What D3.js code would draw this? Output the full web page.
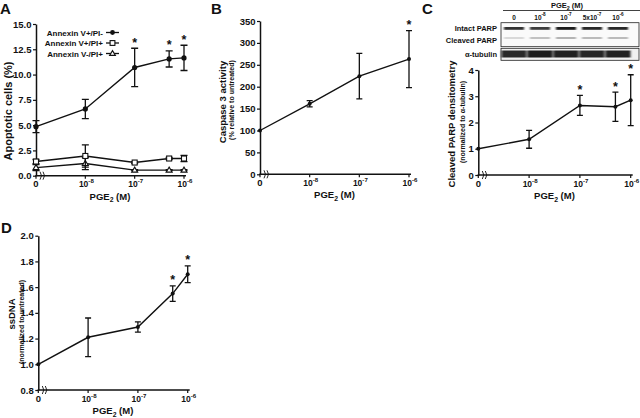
<!DOCTYPE html>
<html>
<head>
<meta charset="utf-8">
<script src="https://cdn.jsdelivr.net/npm/d3@7"></script>
<style>
  body { margin: 0; background: #fff; }
  svg { display: block; }
  text { font-family: "Liberation Sans", Arial, sans-serif; font-weight: bold; fill: #111; }
</style>
</head>
<body>
<svg id="fig" width="640" height="418"></svg>
<script>
// PGE2 doses (M); 0 is drawn one decade left of 1e-8, behind an axis break
const doses = [0, 1e-8, 1e-7, 5e-7, 1e-6];
const dosesB = [0, 1e-8, 1e-7, 1e-6];
const xTicks = [0, 1e-8, 1e-7, 1e-6];
const xTickLabels = ['0', '-8', '-7', '-6'];

// A: apoptotic cells (%)
const annexinPosPINeg = [4.85, 6.6, 10.7, 11.55, 11.65];
const annexinPosPINegErr = [0.6, 0.95, 1.9, 0.8, 1.25];
const annexinPosPIPos = [1.4, 1.95, 1.3, 1.7, 1.7];
const annexinPosPIPosErr = [0.2, 1.1, 0.1, 0.1, 0.3];
const annexinNegPIPos = [0.8, 1.2, 0.55, 0.55, 0.55];
const annexinNegPIPosErr = [0.3, 0.6, 0.05, 0.05, 0.05];
const starsA = [1e-7, 5e-7, 1e-6];

// B: caspase 3 activity (% of untreated)
const caspase = [100, 161, 224, 263];
const caspaseErr = [0, 7, 52, 65];
const starsB = [1e-6];

// C: cleaved PARP densitometry
const parp = [1.0, 1.36, 2.65, 2.6, 2.85];
const parpErr = [0, 0.34, 0.38, 0.56, 0.97];
const starsC = [1e-7, 5e-7, 1e-6];

// C blot: lane labels and band darkness (0..1)
const laneLabels = [['0', ''], ['10', '-8'], ['10', '-7'], ['5x10', '-7'], ['10', '-6']];
const intactBand = [0.85, 0.8, 0.95, 0.9, 0.9];
const cleavedBand = [0.12, 0.22, 0.28, 0.25, 0.25];
const tubulinBand = [0.88, 0.95, 0.92, 0.9, 0.93];

// D: ssDNA (normalized to untreated)
const ssdna = [1.0, 1.21, 1.29, 1.55, 1.70];
const ssdnaErr = [0, 0.15, 0.04, 0.06, 0.065];
const starsD = [5e-7, 1e-6];

const svg = d3.select('#fig');

function pge(sel) {
    sel.text('PGE');
    sel.append('tspan').attr('font-size', '0.72em').attr('dy', 2.5).text('2');
    sel.append('tspan').attr('dy', -2.5).text(' (M)');
}

function power(sel, base, exp) {
    sel.text(base);
    if (exp) sel.append('tspan').attr('font-size', '0.72em').attr('dy', -4).text(exp);
}

function panel(cfg) {
    const g = svg.append('g');
    const xl = d3.scaleLog().domain([1e-9, 1e-6]).range(cfg.xr);
    const x = d => xl(d === 0 ? 1e-9 : d);
    const y = d3.scaleLinear().domain(cfg.yd).range(cfg.yr);
    const y0 = cfg.yr[0];

    // y axis
    const ya = g.append('g').attr('transform', 'translate(' + cfg.xr[0] + ',0)')
        .call(d3.axisLeft(y).tickValues(cfg.yt).tickFormat(cfg.yf).tickSize(3).tickSizeOuter(0).tickPadding(1.5));
    ya.attr('font-family', null);
    ya.select('.domain').attr('stroke', '#111').attr('stroke-width', 1.5);
    ya.selectAll('.tick line').attr('stroke', '#111').attr('stroke-width', 1.2);
    ya.selectAll('.tick text').attr('font-size', 9.5).attr('fill', '#111');

    // x axis
    g.append('line').attr('x1', cfg.xr[0] - 0.7).attr('x2', cfg.xr[1] + 2)
        .attr('y1', y0).attr('y2', y0).attr('stroke', '#111').attr('stroke-width', 1.5);
    xTicks.forEach(function(t, i) {
        g.append('line').attr('x1', x(t)).attr('x2', x(t)).attr('y1', y0).attr('y2', y0 + 3)
            .attr('stroke', '#111').attr('stroke-width', 1.2);
        const tx = g.append('text').attr('x', x(t) + (i === 0 ? 0 : 1)).attr('y', y0 + 11.5)
            .attr('text-anchor', 'middle').attr('font-size', 8.5);
        if (i === 0) tx.attr('font-size', 9.5).text(xTickLabels[i]);
        else power(tx, '10', xTickLabels[i]);
    });
    // axis break marks
    [5, 8].forEach(function(dx) {
        const bx = cfg.xr[0] + dx;
        g.append('path')
            .attr('d', 'M' + (bx - 1) + ',' + (y0 - 4) + ' Q' + (bx + 2) + ',' + y0 + ' ' + (bx - 1) + ',' + (y0 + 4))
            .attr('fill', 'none').attr('stroke', '#111').attr('stroke-width', 0.9);
    });
    g.append('text').attr('x', (cfg.xr[0] + cfg.xr[1]) / 2).attr('y', y0 + 24)
        .attr('text-anchor', 'middle').attr('font-size', 9.5).call(pge);

    // y title
    g.append('text').attr('transform', 'translate(' + cfg.yl[0] + ',' + cfg.yl[1] + ') rotate(-90)')
        .attr('text-anchor', 'middle').attr('font-size', cfg.ytSize || 9.5).text(cfg.ytitle);
    if (cfg.ysub) {
        g.append('text').attr('transform', 'translate(' + cfg.ys[0] + ',' + cfg.ys[1] + ') rotate(-90)')
            .attr('text-anchor', 'middle').attr('font-size', 7).text(cfg.ysub);
    }
    // panel letter
    g.append('text').attr('x', cfg.letter[0]).attr('y', cfg.letter[1])
        .attr('font-size', 15).text(cfg.letter[2]);

    const line = d3.line().x(d => x(d.dose)).y(d => y(d.v));
    cfg.series.forEach(function(s) {
        const pts = s.doses.map((d, i) => ({ dose: d, v: s.vals[i], e: s.errs[i] }));
        g.append('path').datum(pts).attr('d', line)
            .attr('fill', 'none').attr('stroke', '#111').attr('stroke-width', 1.4);
        pts.forEach(function(p) {
            if (p.e > 0) {
                const cx = x(p.dose), w = cfg.cap;
                g.append('path')
                    .attr('d', 'M' + cx + ',' + y(p.v - p.e) + 'V' + y(p.v + p.e) +
                        'M' + (cx - w) + ',' + y(p.v + p.e) + 'H' + (cx + w) +
                        'M' + (cx - w) + ',' + y(p.v - p.e) + 'H' + (cx + w))
                    .attr('fill', 'none').attr('stroke', '#111').attr('stroke-width', 1.3);
            }
            marker(g, s.marker, x(p.dose), y(p.v), s.size);
        });
        (s.stars || []).forEach(function(d) {
            const i = s.doses.indexOf(d);
            g.append('text').attr('x', x(d)).attr('y', y(s.vals[i] + s.errs[i]) - 1.5)
                .attr('text-anchor', 'middle').attr('font-size', 12.5).text('*');
        });
    });
    return g;
}

function marker(g, type, cx, cy, r) {
    if (type === 'circle') {
        g.append('circle').attr('cx', cx).attr('cy', cy).attr('r', r).attr('fill', '#111');
    } else if (type === 'square') {
        g.append('rect').attr('x', cx - r).attr('y', cy - r).attr('width', 2 * r).attr('height', 2 * r)
            .attr('fill', '#fff').attr('stroke', '#111').attr('stroke-width', 1.1);
    } else if (type === 'triangle') {
        g.append('path').attr('d', 'M' + cx + ',' + (cy - r - 0.5) + 'L' + (cx + r + 0.5) + ',' + (cy + r - 0.5) +
            'L' + (cx - r - 0.5) + ',' + (cy + r - 0.5) + 'Z')
            .attr('fill', '#fff').attr('stroke', '#111').attr('stroke-width', 1.1);
    }
}

// Panel A
const gA = panel({
    xr: [36, 184], yr: [175.7, 24], yd: [0, 15],
    yt: [0, 2.5, 5, 7.5, 10, 12.5, 15], yf: d3.format('.1f'),
    ytitle: 'Apoptotic cells (%)', yl: [11.5, 111], ytSize: 11,
    letter: [0, 14, 'A'], cap: 3.5,
    series: [
        { doses: doses, vals: annexinNegPIPos, errs: annexinNegPIPosErr, marker: 'triangle', size: 2.5 },
        { doses: doses, vals: annexinPosPIPos, errs: annexinPosPIPosErr, marker: 'square', size: 2.5 },
        { doses: doses, vals: annexinPosPINeg, errs: annexinPosPINegErr, marker: 'circle', size: 2.6, stars: starsA },
    ],
});
// legend
const legend = [
    ['Annexin V+/PI-', 'circle'],
    ['Annexin V+/PI+', 'square'],
    ['Annexin V-/PI+', 'triangle'],
];
legend.forEach(function(l, i) {
    const ly = 32.5 + i * 10.5;
    gA.append('text').attr('x', 103).attr('y', ly + 3).attr('text-anchor', 'end')
        .attr('font-size', 8).text(l[0]);
    gA.append('line').attr('x1', 106).attr('x2', 119).attr('y1', ly).attr('y2', ly)
        .attr('stroke', '#111').attr('stroke-width', 1.3);
    marker(gA, l[1], 112.5, ly, 2.4);
});

// Panel B
panel({
    xr: [260, 409], yr: [174.3, 21], yd: [0, 350],
    yt: d3.range(0, 351, 50), yf: d3.format('d'),
    ytitle: 'Caspase 3 activity', yl: [226, 102],
    ysub: '(% relative to untreated)', ys: [234, 100],
    letter: [211, 14, 'B'], cap: 3,
    series: [{ doses: dosesB, vals: caspase, errs: caspaseErr, marker: 'circle', size: 2, stars: starsB }],
});

// Panel C
panel({
    xr: [478.3, 630.7], yr: [175, 70], yd: [0, 4],
    yt: [0, 1, 2, 3, 4], yf: d3.format('d'),
    ytitle: 'Cleaved PARP densitometry', yl: [455, 124],
    ysub: '(normalized to \u03b1-tubulin)', ys: [465, 122],
    letter: [422, 14, 'C'], cap: 3,
    series: [{ doses: doses, vals: parp, errs: parpErr, marker: 'circle', size: 2, stars: starsC }],
});

// Panel C blot
const blot = svg.append('g');
const defs = svg.append('defs');
defs.append('filter').attr('id', 'blur').attr('x', '-20%').attr('y', '-100%').attr('width', '140%').attr('height', '300%')
    .append('feGaussianBlur').attr('stdDeviation', '0.9 0.6');
const lane = d3.scalePoint().domain(d3.range(laneLabels.length)).range([514, 618]);
const shade = d3.scaleLinear().domain([0, 1]).range(['#f4f4f4', '#111']);

blot.append('text').attr('x', 567).attr('y', 7.5).attr('text-anchor', 'middle').attr('font-size', 7.5).call(pge);
blot.append('line').attr('x1', 503).attr('x2', 640).attr('y1', 10.5).attr('y2', 10.5)
    .attr('stroke', '#111').attr('stroke-width', 0.8);
laneLabels.forEach(function(l, i) {
    const t = blot.append('text').attr('x', lane(i)).attr('y', 20).attr('text-anchor', 'middle').attr('font-size', 6.5);
    power(t, l[0], l[1]);
});
blot.append('rect').attr('x', 501).attr('y', 22.7).attr('width', 138).attr('height', 24)
    .attr('fill', '#fafafa').attr('stroke', '#222').attr('stroke-width', 0.8);
blot.append('rect').attr('x', 501).attr('y', 48.3).attr('width', 138).attr('height', 12)
    .attr('fill', '#f0f0f0').attr('stroke', '#222').attr('stroke-width', 0.8);

const bands = blot.append('g').attr('filter', 'url(#blur)');
intactBand.forEach(function(v, i) {
    bands.append('rect').attr('x', lane(i) - 10).attr('y', 27).attr('width', 20).attr('height', 2.8)
        .attr('fill', shade(v));
});
cleavedBand.forEach(function(v, i) {
    bands.append('rect').attr('x', lane(i) - 10).attr('y', 37).attr('width', 20).attr('height', 2)
        .attr('fill', shade(v));
});
tubulinBand.forEach(function(v, i) {
    bands.append('rect').attr('x', lane(i) - 12.5).attr('y', 50.5).attr('width', 25).attr('height', 7)
        .attr('fill', shade(v));
});
[['Intact PARP', 30.5], ['Cleaved PARP', 43], ['\u03b1-tubulin', 56.5]].forEach(function(l) {
    blot.append('text').attr('x', 497).attr('y', l[1]).attr('text-anchor', 'end')
        .attr('font-size', 7.5).text(l[0]);
});

// Panel D
panel({
    xr: [38.3, 187.7], yr: [390, 235.7], yd: [0.8, 2.0],
    yt: [0.8, 1.0, 1.2, 1.4, 1.6, 1.8, 2.0], yf: d3.format('.1f'),
    ytitle: 'ssDNA', yl: [15, 314],
    ysub: '(normalized to untreated)', ys: [24, 322],
    letter: [1, 233, 'D'], cap: 3,
    series: [{ doses: doses, vals: ssdna, errs: ssdnaErr, marker: 'circle', size: 2, stars: starsD }],
});
</script>
</body>
</html>
